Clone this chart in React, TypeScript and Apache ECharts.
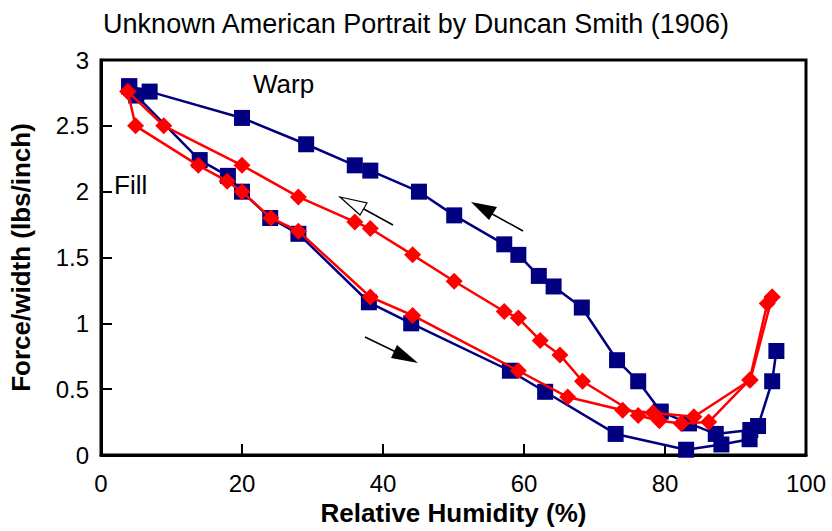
import React, { useEffect, useRef } from "react";
import * as echarts from "echarts";

const titleText = "Unknown American Portrait by Duncan Smith (1906)";
const xAxisName = "Relative Humidity (%)";
const yAxisName = "Force/width (lbs/inch)";

// Warp: lower branch (RH increasing)
const warpLowerRH = [4, 5, 14, 18, 20, 24, 28, 38, 44, 58, 63, 73, 83, 88, 92, 93.2, 95.2, 95.8];
const warpLowerForce = [2.8, 2.73, 2.24, 2.12, 2.0, 1.8, 1.68, 1.16, 1.0, 0.64, 0.48, 0.16, 0.04, 0.08, 0.12, 0.22, 0.56, 0.79];
// Warp: upper branch (RH decreasing)
const warpUpperRH = [92.1, 87.2, 83.4, 79.4, 76.2, 73.2, 68.2, 64.2, 62.1, 59.2, 57.2, 50.1, 45.1, 38.2, 36, 29.1, 20, 6.9, 4];
const warpUpperForce = [0.19, 0.16, 0.24, 0.33, 0.56, 0.72, 1.12, 1.28, 1.36, 1.52, 1.6, 1.82, 2.0, 2.16, 2.2, 2.36, 2.56, 2.76, 2.8];

// Fill: lower branch
const fillLowerRH = [3.8, 4.9, 13.8, 17.9, 20, 24.1, 28, 38.2, 44.2, 59.2, 66.2, 74, 78.3, 84.1, 92.1, 95.2];
const fillLowerForce = [2.76, 2.5, 2.2, 2.08, 2.0, 1.8, 1.7, 1.2, 1.06, 0.64, 0.44, 0.34, 0.32, 0.29, 0.57, 1.2];
// Fill: upper branch
const fillUpperRH = [95.2, 94.5, 92, 86.2, 82.3, 79.2, 76.2, 68.3, 65.1, 62.3, 59.2, 57.2, 50.1, 44.2, 38.2, 36, 28, 20, 8.9, 3.8];
const fillUpperForce = [1.2, 1.15, 0.57, 0.25, 0.24, 0.26, 0.3, 0.56, 0.76, 0.87, 1.04, 1.09, 1.32, 1.52, 1.72, 1.77, 1.96, 2.2, 2.5, 2.76];

const xTicks = [0, 20, 40, 60, 80, 100];
const yTicks = [0, 0.5, 1, 1.5, 2, 2.5, 3];

const FONT = "'Liberation Sans', Arial, Helvetica, sans-serif";
const NAVY = "#000080";
const RED = "#ff0000";

function pairs(xs: number[], ys: number[]) {
  return xs.map((x, i) => [x, ys[i]]);
}

export default function App() {
  const ref = useRef<HTMLDivElement>(null);
  useEffect(() => {
    if (!ref.current) return;
    const chart = echarts.init(ref.current, undefined, { renderer: "svg" });
    const warpStyle = (name: string, xs: number[], ys: number[]) => ({
      name,
      type: "line",
      data: pairs(xs, ys),
      symbol: "rect",
      symbolSize: 16,
      lineStyle: { color: NAVY, width: 2.5 },
      itemStyle: { color: NAVY },
      z: 2,
    });
    const fillStyle = (name: string, xs: number[], ys: number[]) => ({
      name,
      type: "line",
      data: pairs(xs, ys),
      symbol: "diamond",
      symbolSize: 17,
      lineStyle: { color: RED, width: 2.5 },
      itemStyle: { color: RED },
      z: 3,
    });
    chart.setOption({
      animation: false,
      backgroundColor: "#ffffff",
      title: {
        text: titleText,
        left: "center",
        top: 5,
        textStyle: { fontFamily: FONT, fontSize: 27, fontWeight: "normal", color: "#000" },
      },
      grid: {
        left: 96,
        right: 26,
        top: 60,
        bottom: 75,
        show: true,
        borderColor: "#000",
        borderWidth: 3,
        backgroundColor: "transparent",
      },
      xAxis: {
        type: "value",
        min: xTicks[0],
        max: xTicks[xTicks.length - 1],
        interval: 20,
        name: xAxisName,
        nameLocation: "middle",
        nameGap: 45,
        nameTextStyle: { fontFamily: FONT, fontSize: 26, fontWeight: "bold", color: "#000" },
        axisLine: { show: true, lineStyle: { color: "#000", width: 3 } },
        axisTick: { show: true, inside: true, length: 11, lineStyle: { color: "#000", width: 2 } },
        axisLabel: { fontFamily: FONT, fontSize: 24, color: "#000", margin: 16 },
        splitLine: { show: false },
      },
      yAxis: {
        type: "value",
        min: yTicks[0],
        max: yTicks[yTicks.length - 1],
        interval: 0.5,
        name: yAxisName,
        nameLocation: "middle",
        nameGap: 67,
        nameRotate: 90,
        nameTextStyle: { fontFamily: FONT, fontSize: 26, fontWeight: "bold", color: "#000" },
        axisLine: { show: true, lineStyle: { color: "#000", width: 3 } },
        axisTick: { show: true, inside: true, length: 11, lineStyle: { color: "#000", width: 2 } },
        axisLabel: { fontFamily: FONT, fontSize: 24, color: "#000", margin: 12 },
        splitLine: { show: false },
      },
      series: [
        warpStyle("Warp lower", warpLowerRH, warpLowerForce),
        warpStyle("Warp upper", warpUpperRH, warpUpperForce),
        fillStyle("Fill lower", fillLowerRH, fillLowerForce),
        fillStyle("Fill upper", fillUpperRH, fillUpperForce),
      ],
      graphic: [
        {
          type: "text",
          left: 253,
          top: 71,
          style: { text: "Warp", fontFamily: FONT, fontSize: 26, fill: "#000" },
          z: 10,
        },
        {
          type: "text",
          left: 114,
          top: 172,
          style: { text: "Fill", fontFamily: FONT, fontSize: 26, fill: "#000" },
          z: 10,
        },
        // upper warp arrow (filled)
        { type: "line", shape: { x1: 523, y1: 231, x2: 485, y2: 210 }, style: { stroke: "#000", lineWidth: 1.5 }, z: 10 },
        { type: "polygon", shape: { points: [[471, 202], [497, 207], [489, 220]] }, style: { fill: "#000" }, z: 10 },
        // fill hollow arrow
        { type: "line", shape: { x1: 393, y1: 225, x2: 362, y2: 208 }, style: { stroke: "#000", lineWidth: 1.5 }, z: 10 },
        { type: "polygon", shape: { points: [[340, 197], [367, 203], [360, 215]] }, style: { fill: "#fff", stroke: "#000", lineWidth: 1.2 }, z: 10 },
        // lower arrow (filled)
        { type: "line", shape: { x1: 365, y1: 337, x2: 396, y2: 352 }, style: { stroke: "#000", lineWidth: 1.5 }, z: 10 },
        { type: "polygon", shape: { points: [[418, 363], [397, 345], [391, 358]] }, style: { fill: "#000" }, z: 10 },
      ],
    });
    return () => chart.dispose();
  }, []);
  return (
    <div
      ref={ref}
      style={{ position: "fixed", left: 0, top: 0, width: 832, height: 531, background: "#fff" }}
    />
  );
}
